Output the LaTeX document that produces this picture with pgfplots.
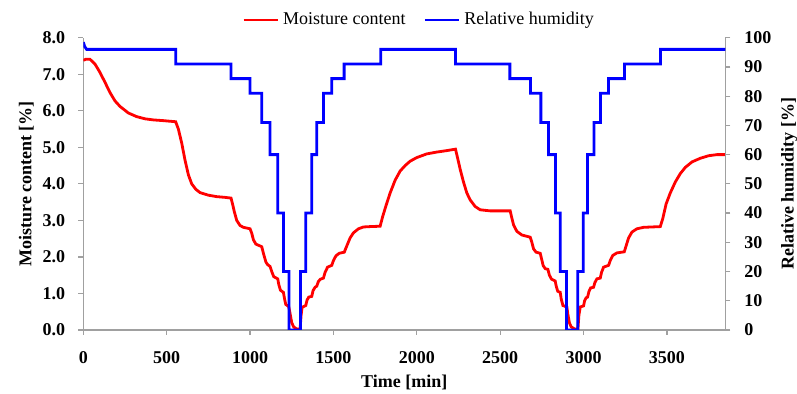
\documentclass[border=0pt]{standalone}
\usepackage{fontspec}
\setmainfont{Liberation Serif}
\usepackage{pgfplots}
\pgfplotsset{compat=1.18}
\definecolor{axgray}{RGB}{160,160,160}
\pgfplotstableread{
t mc
0 7.38
15 7.41
40 7.41
70 7.28
100 7.05
130 6.78
160 6.50
190 6.27
220 6.12
270 5.94
320 5.84
370 5.78
420 5.75
480 5.73
554 5.70
570 5.50
590 5.12
610 4.65
630 4.25
650 4.00
675 3.85
700 3.76
750 3.69
800 3.65
850 3.63
886 3.61
895 3.45
905 3.25
920 3.00
940 2.86
960 2.81
1000 2.77
1010 2.65
1020 2.47
1035 2.35
1070 2.28
1080 2.10
1095 1.86
1105 1.79
1120 1.74
1130 1.60
1142 1.46
1166 1.40
1172 1.25
1182 1.09
1200 1.03
1207 0.85
1214 0.70
1232 0.64
1240 0.45
1250 0.20
1262 0.08
1280 0.03
1300 0.02
1306 0.40
1312 0.62
1334 0.67
1342 0.82
1352 0.90
1370 0.92
1378 1.08
1390 1.17
1400 1.20
1410 1.33
1422 1.39
1440 1.42
1450 1.58
1465 1.72
1490 1.77
1500 1.90
1515 2.03
1535 2.10
1565 2.13
1580 2.30
1600 2.52
1620 2.66
1650 2.77
1680 2.82
1720 2.83
1780 2.84
1795 3.10
1815 3.40
1840 3.75
1870 4.10
1900 4.35
1930 4.50
1960 4.62
2000 4.72
2060 4.82
2120 4.87
2180 4.91
2232 4.95
2245 4.70
2260 4.40
2280 4.05
2300 3.75
2320 3.56
2350 3.38
2380 3.29
2440 3.26
2560 3.26
2568 3.10
2580 2.88
2600 2.70
2630 2.60
2680 2.54
2690 2.40
2700 2.22
2715 2.13
2740 2.10
2748 1.95
2758 1.76
2770 1.68
2786 1.66
2795 1.50
2808 1.39
2830 1.34
2836 1.20
2845 1.06
2860 1.03
2866 0.85
2876 0.67
2900 0.63
2905 0.45
2915 0.20
2925 0.09
2945 0.03
2966 0.02
2972 0.40
2980 0.63
3000 0.66
3006 0.80
3015 0.88
3024 0.90
3032 1.05
3042 1.15
3060 1.17
3068 1.30
3080 1.40
3100 1.42
3108 1.58
3120 1.72
3150 1.77
3160 1.90
3175 2.04
3200 2.11
3244 2.14
3255 2.30
3270 2.52
3290 2.68
3320 2.77
3360 2.81
3460 2.83
3475 3.05
3495 3.45
3520 3.75
3550 4.05
3580 4.28
3610 4.45
3650 4.60
3700 4.70
3750 4.77
3800 4.80
3850 4.80
}\mctable
\pgfplotstableread{
t rh
0 98.5
8 97
20 96
554 96
554 91
886 91
886 86
1000 86
1000 81
1070 81
1070 71
1120 71
1120 60
1166 60
1166 40
1200 40
1200 20
1234 20
1234 0
1302 0
1302 20
1334 20
1334 40
1370 40
1370 60
1400 60
1400 71
1440 71
1440 81
1490 81
1490 86
1564 86
1564 91
1784 91
1784 96
2232 96
2232 91
2558 91
2558 86
2682 86
2682 81
2744 81
2744 71
2790 71
2790 60
2832 60
2832 40
2860 40
2860 20
2898 20
2898 0
2965 0
2965 20
2998 20
2998 40
3024 40
3024 60
3063 60
3063 71
3102 71
3102 81
3150 81
3150 86
3245 86
3245 91
3461 91
3461 96
3850 96
}\rhtable
\pgfplotsset{
  every axis/.append style={font=\fontsize{9}{10.5}\selectfont},
  base/.style={
    scale only axis, width=321pt, height=146.15pt,
    xmin=0, xmax=3850,
    axis line style={axgray, line width=0.6pt},
    every tick/.style={axgray, line width=0.6pt},
    tick align=outside, major tick length=2.5pt,
    /pgf/number format/assume math mode=true,
    /pgf/number format/1000 sep={},
    tick label style={font=\fontsize{9}{10.5}\selectfont\bfseries},
  },
}
\begin{document}
\begin{tikzpicture}
\useasboundingbox (-41.65pt,-32pt) rectangle (356.85pt,165pt);
\begin{axis}[base,
  axis x line*=bottom, axis y line*=left,
  ymin=0, ymax=8,
  xtick={0,500,...,3500},
  ytick={0,1,...,8},
  y tick label style={xshift=-3pt, /pgf/number format/fixed, /pgf/number format/fixed zerofill, /pgf/number format/precision=1},
  xticklabel style={yshift=-4.5pt},
  xlabel={\bfseries Time [min]},
  ylabel={\bfseries Moisture content [\%]},
  xlabel style={at={(axis description cs:0.5,-0.181)}, anchor=center},
  ylabel style={at={(axis description cs:-0.0888,0.5)}, anchor=center},
]
\addplot[red, line width=1.4pt] table[x=t, y=mc] {\mctable};
\end{axis}
\begin{axis}[base,
  axis x line=none, axis y line*=right,
  ymin=0, ymax=100,
  ytick={0,10,...,100},
  yticklabel style={xshift=3.5pt},
  ylabel={\bfseries Relative humidity [\%]},
  ylabel style={at={(axis description cs:1.0997,0.5)}, anchor=center},
  legend columns=2,
  legend style={draw=none, fill=none, at={(axis description cs:0.5245,1.0606)}, anchor=center,
    font=\fontsize{9}{10.5}\selectfont,
    /tikz/every even column/.append style={column sep=7pt}},
  legend cell align=left,
]
\addlegendimage{red, line width=1.4pt}
\addlegendentry{Moisture content}
\addplot[blue, line width=1.4pt] table[x=t, y=rh] {\rhtable};
\addlegendentry{Relative humidity}
\end{axis}
\end{tikzpicture}
\end{document}
